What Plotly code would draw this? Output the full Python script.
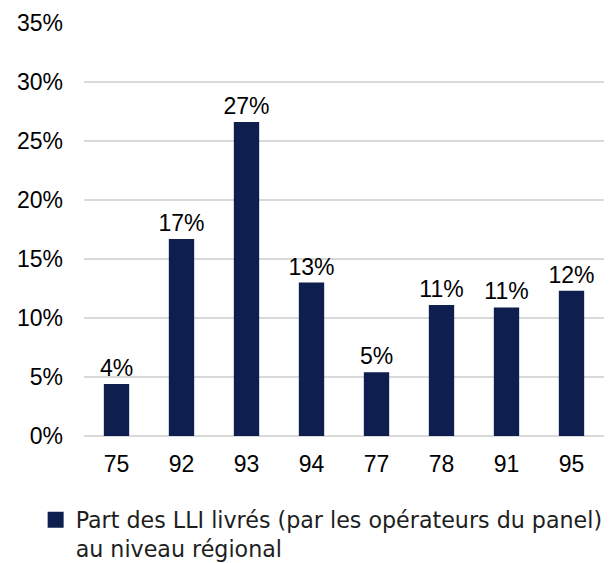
import plotly.graph_objects as go

categories = ["75", "92", "93", "94", "77", "78", "91", "95"]
values = [4.4, 16.7, 26.6, 13.0, 5.4, 11.1, 10.9, 12.3]
labels = ["4%", "17%", "27%", "13%", "5%", "11%", "11%", "12%"]
series_name = "Part des LLI livrés (par les opérateurs du panel)<br>au niveau régional"
y_ticks = [0, 5, 10, 15, 20, 25, 30, 35]
y_tick_labels = [f"{v}%" for v in y_ticks]

navy = "#0e1e4f"

fig = go.Figure()
fig.add_trace(go.Bar(
    x=categories, y=values, text=labels, textposition="outside",
    constraintext="none",
    textfont=dict(family="Liberation Sans, Arial", size=23, color="#000000"),
    marker=dict(color=navy, line=dict(width=0)),
    cliponaxis=False, showlegend=False,
))
fig.add_trace(go.Scatter(
    x=[None], y=[None], mode="markers", name=series_name,
    marker=dict(symbol="square", size=18, color=navy),
))

# page body has an 8px default margin, so the figure is 8px smaller and shifted
fig.update_layout(
    width=608, height=555,
    margin=dict(l=76, r=12, t=15, b=127, autoexpand=False),
    plot_bgcolor="white", paper_bgcolor="white",
    bargap=0.61,
    font=dict(family="Liberation Sans, Arial", size=23, color="#000000"),
    xaxis=dict(type="category", showgrid=False, showline=False, ticks="",
               ticklabelstandoff=12, tickfont=dict(size=23), automargin=False),
    yaxis=dict(range=[0, 35], tickvals=y_ticks, ticktext=y_tick_labels,
               showgrid=True, gridcolor="#d9d9d9", gridwidth=1.5,
               zeroline=True, zerolinecolor="#d9d9d9", zerolinewidth=1.5,
               showline=False, ticks="", ticklabelstandoff=20,
               tickfont=dict(size=23), automargin=False),
    legend=dict(orientation="h", x=-0.093, xanchor="left", y=-0.152, yanchor="top",
                valign="top",
                font=dict(family="DejaVu Sans, sans-serif", size=22.2, color="#1e1e1e"),
                itemsizing="trace"),
)

fig.write_html("out.html")
